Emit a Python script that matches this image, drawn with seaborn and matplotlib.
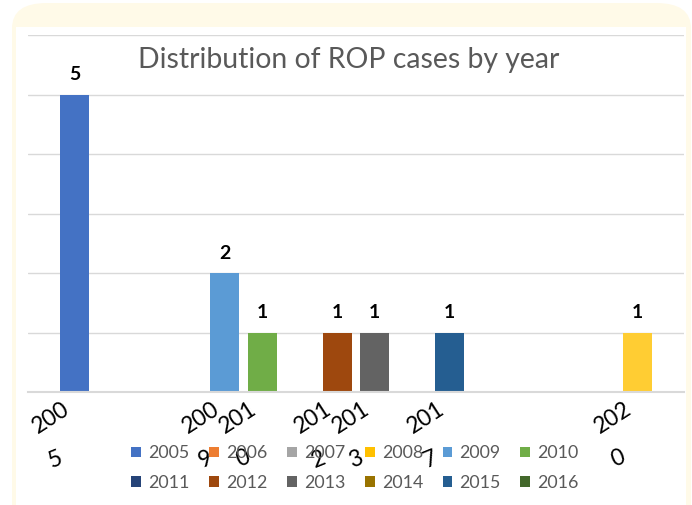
import matplotlib
matplotlib.use('Agg')
import matplotlib.pyplot as plt
import seaborn as sns
import pandas as pd
from matplotlib.patches import Patch, FancyBboxPatch, Rectangle

# data: one series per slot, Excel-style
series = [str(y) for y in range(2005, 2021)]
cases = [5, 0, 0, 0, 2, 1, 0, 1, 1, 0, 1, 0, 0, 0, 0, 1]
# category text printed under the non-empty slots
cat_labels = ['2005', '', '', '', '2009', '2010', '', '2012',
              '2013', '', '2017', '', '', '', '', '2020']
series_colors = ['#4472C4', '#ED7D31', '#A5A5A5', '#FFC000', '#5B9BD5', '#70AD47',
                 '#264478', '#9E480E', '#636363', '#997300', '#255E91', '#43682B',
                 '#698ED0', '#F1975A', '#B7B7B7', '#FFCD33']
legend_shown = 12  # the legend is cut after 2016

title = 'Distribution of ROP cases by year'

df = pd.DataFrame({'series': series, 'cases': cases})

sns.set_style('white')
plt.rcParams['font.family'] = ['Lato', 'DejaVu Sans']

W, H = 692, 505
fig = plt.figure(figsize=(W / 100, H / 100), dpi=100)

# cream rounded frame with white inside
fig.patches.append(FancyBboxPatch((12 / W, -0.2), 679 / W, 1.2 - 3 / H,
                                  boxstyle='round,pad=0,rounding_size=0.05',
                                  transform=fig.transFigure, facecolor='#FFFAE8',
                                  edgecolor='none', zorder=-2))
fig.patches.append(Rectangle((16 / W, -0.1), 670 / W, 1.1 - 27 / H,
                             transform=fig.transFigure, facecolor='white',
                             edgecolor='none', zorder=-1))

ax = fig.add_axes([28 / W, (H - 392) / H, 656 / W, 357 / H])
ax.set_facecolor('none')

sns.barplot(data=df, x='series', y='cases', hue='series', order=series,
            hue_order=series, palette=dict(zip(series, series_colors)),
            dodge=False, width=0.78, saturation=1,
            linewidth=0, legend=False, ax=ax)

for c in ax.containers:
    ax.bar_label(c, labels=[int(v.get_height()) if v.get_height() > 0 else '' for v in c],
                 padding=8, fontsize=14, fontweight='bold', color='black')

ax.set_xlim(-1.25, len(series) + 0.25)
ax.set_ylim(0, 6)
ax.set_yticks(range(0, 7))
ax.set_yticklabels([])
ax.set_xticks([])
ax.grid(axis='y', color='#D9D9D9', linewidth=1)
ax.set_axisbelow(True)
ax.tick_params(left=False, bottom=False)
for s in ['top', 'left', 'right']:
    ax.spines[s].set_visible(False)
ax.spines['bottom'].set_color('#D9D9D9')
ax.spines['bottom'].set_linewidth(1.5)
ax.set_xlabel('')
ax.set_ylabel('')

# wrapped, rotated category labels the way the original shows them
for i, s in enumerate(cat_labels):
    if not s:
        continue
    ax.annotate(s[:3], xy=(i, 0), xycoords=('data', 'axes fraction'),
                xytext=(-24 * 0.72, -26 * 0.72), textcoords='offset points',
                rotation=33, ha='center', va='center', fontsize=16.5,
                color='black', annotation_clip=False)
    ax.annotate(s[3:], xy=(i, 0), xycoords=('data', 'axes fraction'),
                xytext=(-19 * 0.72, -67 * 0.72), textcoords='offset points',
                rotation=22, ha='center', va='center', fontsize=16.5,
                color='black', annotation_clip=False)

fig.text(349 / W, 1 - 60 / H, title, ha='center', va='center',
         fontsize=20.4, color='#595959')

handles = [Patch(facecolor=c, edgecolor='none') for c in series_colors[:legend_shown]]
names = series[:legend_shown]
# matplotlib fills legend column-wise, reorder so rows read across
order = [i + 6 * r for i in range(6) for r in range(2)]
fig.legend([handles[i] for i in order], [names[i] for i in order],
           loc='center', bbox_to_anchor=(355 / W, 1 - 468 / H), ncol=6,
           frameon=False, fontsize=12.8, labelcolor='#595959',
           handlelength=0.55, handleheight=0.55, handletextpad=0.4,
           columnspacing=1.1, labelspacing=0.75, borderpad=0)

fig.savefig('out.png', dpi=100)
